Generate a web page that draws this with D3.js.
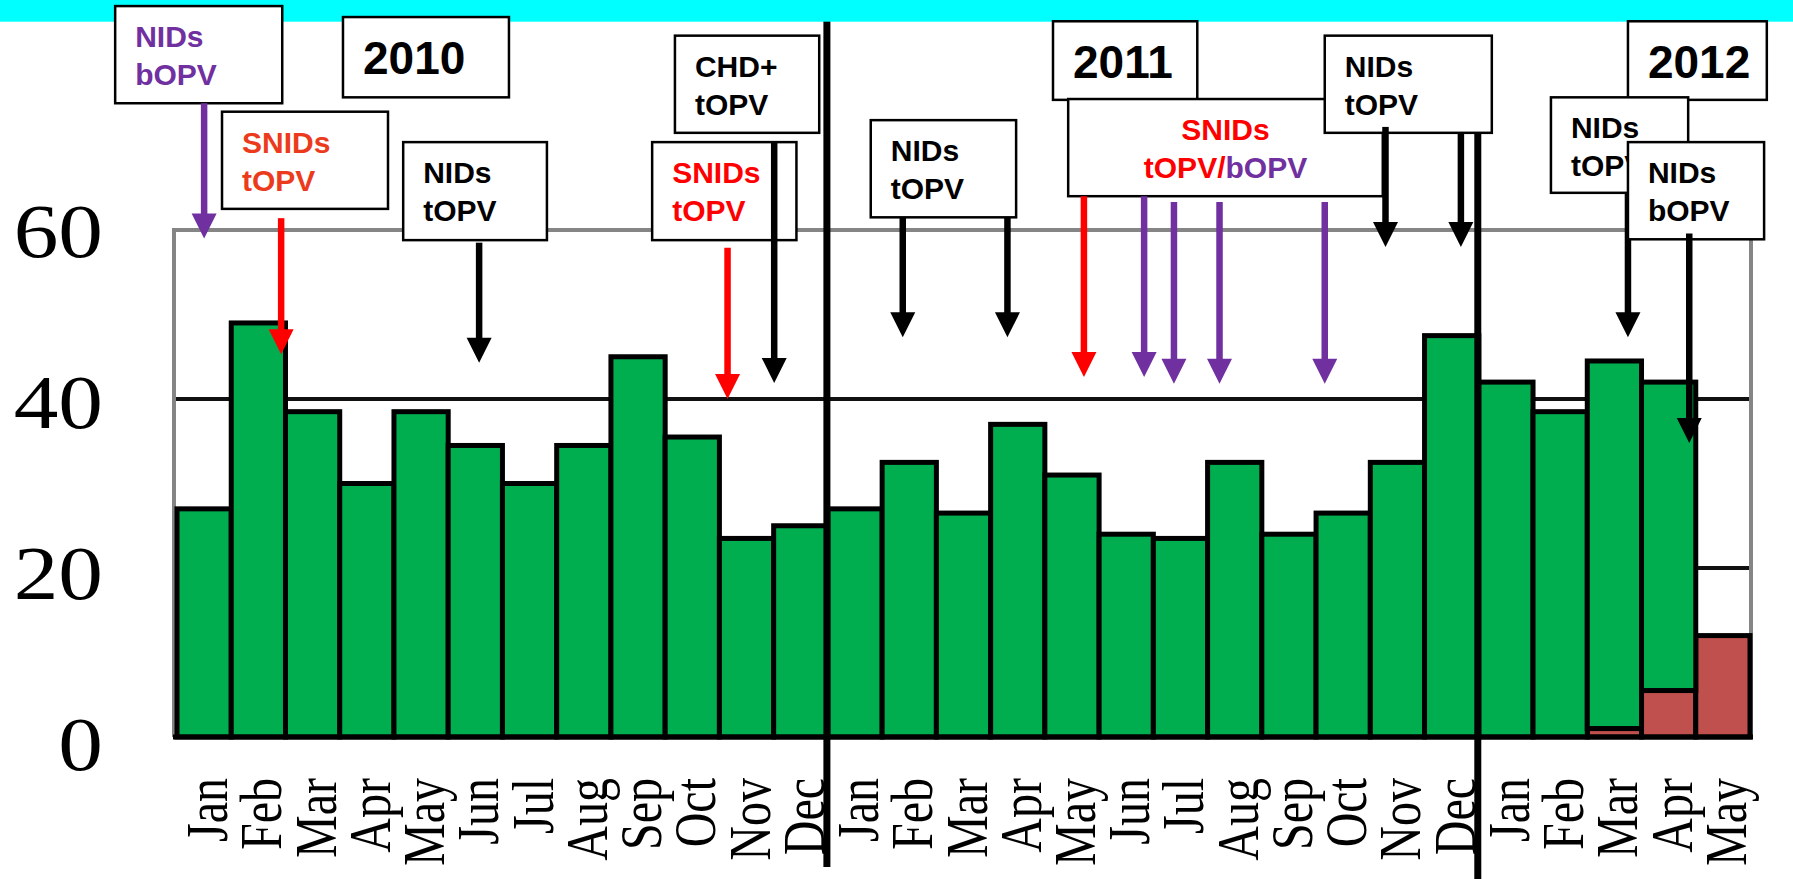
<!DOCTYPE html>
<html><head><meta charset="utf-8">
<script src="https://cdn.jsdelivr.net/npm/d3@7/dist/d3.min.js"></script>
<style>html,body{margin:0;padding:0;background:#fff;overflow:hidden}</style>
</head><body>
<svg id="chart" width="1793" height="879"></svg>
<script>
// ---------------- DATA ----------------
const months = ["Jan","Feb","Mar","Apr","May","Jun","Jul","Aug","Sep","Oct","Nov","Dec",
                "Jan","Feb","Mar","Apr","May","Jun","Jul","Aug","Sep","Oct","Nov","Dec",
                "Jan","Feb","Mar","Apr","May"];
const yearLabels = ["2010","2011","2012"];
// cases per month, green series
const greenCases = [27,49,38.5,30,38.5,34.5,30,34.5,45,35.5,23.5,25,
                    27,32.5,26.5,37,31,24,23.5,32.5,24,26.5,32.5,47.5,
                    42,38.5,43.5,36.5,0];
// cases per month, red series (stacked at the bottom)
const redCases = [0,0,0,0,0,0,0,0,0,0,0,0,
                  0,0,0,0,0,0,0,0,0,0,0,0,
                  0,0,1,5.5,12];
const yTicks = [0,20,40,60];
const gridValues = [20,40];

// campaign annotations: label lines (text pieces with colour keys)
const campaignLabels = [
  [[["NIDs","purple"]],[["bOPV","purple"]]],
  [[["2010","black"]]],
  [[["SNIDs","orange"]],[["tOPV","orange"]]],
  [[["NIDs","black"]],[["tOPV","black"]]],
  [[["CHD+","black"]],[["tOPV","black"]]],
  [[["SNIDs","red"]],[["tOPV","red"]]],
  [[["2011","black"]]],
  [[["NIDs","black"]],[["tOPV","black"]]],
  [[["SNIDs","red"]],[["tOPV/","red"],["bOPV","purple"]]],
  [[["NIDs","black"]],[["tOPV","black"]]],
  [[["2012","black"]]],
  [[["NIDs","black"]],[["tOPV","black"]]],
  [[["NIDs","black"]],[["bOPV","black"]]]
];
// campaign arrows: month position (fractional month index), colour
const arrowMonths = [0.50,1.92,5.57,10.15,11.01,13.38,15.31,16.72,17.83,18.38,19.22,21.16,22.28,23.67,26.75,27.88];
const arrowColors = ["purple","red","black","red","black","black","black","red","purple","purple","purple","purple","black","black","black","black"];
const arrowFrom = [75.0,61.4,58.5,57.9,70.3,61.5,61.5,64.0,64.0,63.3,63.3,63.3,72.2,71.5,64.4,59.6];
const arrowTo   = [59.0,45.3,44.3,40.0,41.9,47.3,47.3,42.6,42.6,41.8,41.8,41.8,58.0,58.0,47.3,34.8];

// ---------------- LAYOUT / STYLE ----------------
const W = 1793, H = 879;
const plotL = 177, plotR = 1750, plotTop = 230, plotBot = 737;
const colors = {purple:"#7030A0", red:"#FF0000", orange:"#EC3B1C", black:"#000000"};
const GREEN = "#00AD4F", RED = "#C0504D";

const svg = d3.select("#chart");
const x = d3.scaleBand().domain(d3.range(months.length)).range([plotL, plotR]).padding(0);
const xi = d3.scaleLinear().domain([0, months.length]).range([plotL, plotR]);
const y = d3.scaleLinear().domain([0, 60]).range([plotBot, plotTop]);

// gridlines (behind bars)
svg.append("g").selectAll("line").data(gridValues).join("line")
  .attr("x1", plotL - 3).attr("x2", plotR)
  .attr("y1", d => y(d)).attr("y2", d => y(d))
  .attr("stroke", "#111").attr("stroke-width", 4);

// gray frame (left, top, right)
svg.append("path")
  .attr("d", d3.line()([[plotL - 3, y(0)], [plotL - 3, y(60)], [plotR + 1, y(60)], [plotR + 1, y(0)]]))
  .attr("fill", "none").attr("stroke", "#858585").attr("stroke-width", 4);

// bars
const stackData = months.map((m, i) => ({i, red: redCases[i], green: greenCases[i]}));
const barG = svg.append("g");
barG.selectAll("rect.red").data(stackData.filter(d => d.red > 0)).join("rect")
  .attr("class", "red")
  .attr("x", d => x(d.i)).attr("width", x.bandwidth())
  .attr("y", d => y(d.red)).attr("height", d => y(0) - y(d.red))
  .attr("fill", RED).attr("stroke", "#000").attr("stroke-width", 5);
barG.selectAll("rect.green").data(stackData.filter(d => d.green > 0)).join("rect")
  .attr("class", "green")
  .attr("x", d => x(d.i)).attr("width", x.bandwidth())
  .attr("y", d => y(d.red + d.green)).attr("height", d => y(d.red) - y(d.red + d.green))
  .attr("fill", GREEN).attr("stroke", "#000").attr("stroke-width", 5);

// bottom axis line
svg.append("line").attr("x1", plotL - 4).attr("x2", plotR + 3)
  .attr("y1", y(0)).attr("y2", y(0)).attr("stroke", "#000").attr("stroke-width", 5);

// y tick labels
svg.append("g").selectAll("text").data(yTicks).join("text")
  .attr("transform", d => `translate(103,${y(d) + 2 + d === 0 ? 0 : 0}) scale(1.16,1)`)
  .attr("transform", d => `translate(103,${y(d) + (60 - d) / 60 * 6}) scale(1.16,1)`)
  .attr("text-anchor", "end").attr("dy", "0.35em")
  .attr("font-family", "'Liberation Serif','Times New Roman',serif")
  .attr("font-size", 77).attr("fill", "#000")
  .text(d => d);

// month labels
svg.append("g").selectAll("text").data(months).join("text")
  .attr("transform", (d, i) => `translate(${x(i) + x.bandwidth() / 2 + 23},778) rotate(-90) scale(1,1.23)`)
  .attr("text-anchor", "end")
  .attr("font-family", "'Liberation Serif','Times New Roman',serif")
  .attr("font-size", 48).attr("fill", "#000")
  .text(d => d);

// year separator lines (between Dec and Jan)
const sepIdx = [12, 24];
const sepTop = [y(84.7 + 2.6), y(71.5)];
const sepBot = [867, 879];
svg.append("g").selectAll("line").data(sepIdx).join("line")
  .attr("x1", d => x(d) - 1).attr("x2", d => x(d) - 1)
  .attr("y1", (d, k) => sepTop[k]).attr("y2", (d, k) => sepBot[k])
  .attr("stroke", "#000").attr("stroke-width", 7);

// cyan banner
svg.append("rect").attr("x", 0).attr("y", 0).attr("width", W).attr("height", 21.7).attr("fill", "#00FFFF");

// annotation boxes in (month index, value) units
const boxes = [
  [-1.14, 1.94, 86.5, 75.0],
  [3.06, 6.12, 85.2, 75.7],
  [0.83, 3.89, 74.0, 62.5],
  [4.17, 6.82, 70.4, 58.8],
  [9.18, 11.84, 83.0, 71.5],
  [8.76, 11.42, 70.4, 58.8],
  [16.15, 18.81, 84.7, 75.4],
  [12.79, 15.47, 73.0, 61.5],
  [16.43, 22.23, 75.5, 64.0],
  [21.16, 24.24, 83.0, 71.5],
  [26.75, 29.31, 84.7, 75.4],
  [25.33, 27.86, 75.7, 64.4],
  [26.75, 29.26, 70.4, 58.9]
];
// which arrows belong after which box (drawing order)
const arrowsAfterBox = {0:[0], 2:[1], 3:[2], 5:[3,4], 7:[5,6], 8:[7,8,9,10,11], 9:[12,13], 11:[14], 12:[15]};

const annG = svg.append("g");
function drawArrow(k) {
  const ax = xi(arrowMonths[k]);
  const y0 = y(arrowFrom[k]), y1 = y(arrowTo[k]);
  const c = colors[arrowColors[k]];
  const hh = 25, hw = 12.5;
  annG.append("line").attr("x1", ax).attr("x2", ax).attr("y1", y0).attr("y2", y1 - hh + 2)
    .attr("stroke", c).attr("stroke-width", 6.5);
  annG.append("path").attr("d", d3.line()([[ax - hw, y1 - hh], [ax + hw, y1 - hh], [ax, y1]]) + "Z")
    .attr("fill", c);
}
boxes.forEach((b, bi) => {
  const x0 = xi(b[0]), x1 = xi(b[1]), yT = y(b[2]), yB = y(b[3]);
  annG.append("rect").attr("x", x0).attr("y", yT).attr("width", x1 - x0).attr("height", yB - yT)
    .attr("fill", "#fff").attr("stroke", "#000").attr("stroke-width", 2.5);
  const lines = campaignLabels[bi];
  const isYear = lines.length === 1;
  const centered = bi === 8;
  lines.forEach((ln, li) => {
    const t = annG.append("text")
      .attr("x", centered ? (x0 + x1) / 2 : x0 + 20)
      .attr("y", yT + (isYear ? 57 : (li === 0 ? 41 : 79)))
      .attr("text-anchor", centered ? "middle" : "start")
      .attr("font-family", "'Liberation Sans',Arial,sans-serif")
      .attr("font-weight", "bold")
      .attr("font-size", isYear ? 46 : 30);
    ln.forEach(p => t.append("tspan").attr("fill", colors[p[1]]).text(p[0]));
  });
  (arrowsAfterBox[bi] || []).forEach(drawArrow);
});
</script>
</body></html>
